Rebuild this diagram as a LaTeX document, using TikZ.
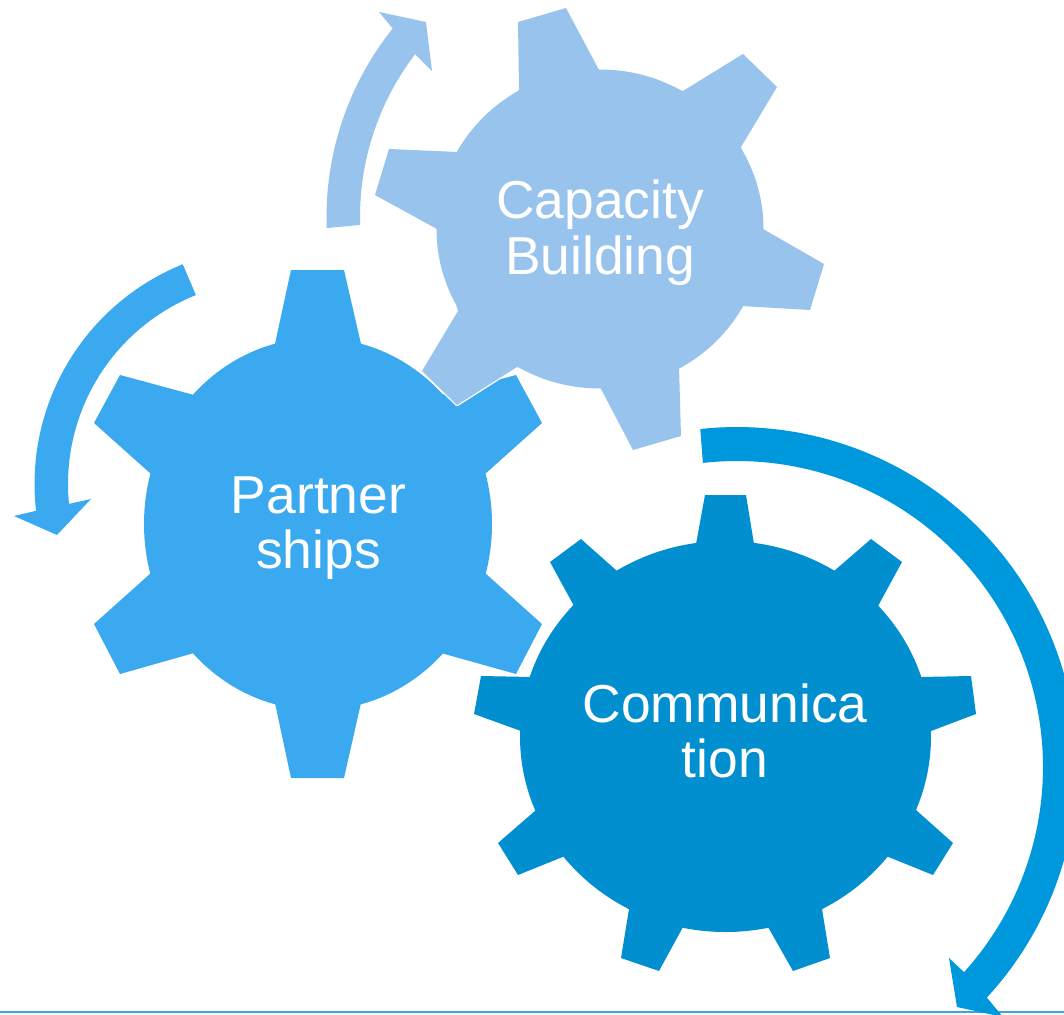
\documentclass[tikz,border=0pt]{standalone}
\usepackage{fontspec}
\setmainfont{Liberation Sans}
\definecolor{capcol}{HTML}{97C3EC}
\definecolor{parcol}{HTML}{3BA9F0}
\definecolor{comcol}{HTML}{028FD0}
\definecolor{arrcol}{HTML}{0098DC}
\definecolor{rulecol}{HTML}{3CA6DC}
\tikzset{
  gearlabel/.style={text=white,align=center,inner sep=0pt,font=\fontsize{53.4}{55.5}\selectfont},
  gearedge/.style={draw=white,line width=2.6pt,line join=round},
}
\newcommand{\drawgear}[5]{% colour, cx, cy, rx ry, polygon
  \path[gearedge] (#2,#3) ellipse [x radius=#4];
  \path[gearedge] #5 -- cycle;
  \fill[#1] (#2,#3) ellipse [x radius=#4];
  \fill[#1] #5 -- cycle;
}
\begin{document}
\begin{tikzpicture}[x=1pt,y=-1pt]
\useasboundingbox (0,0) rectangle (1064,1014);
\clip (0,0) rectangle (1064,1014);
% baseline rule
\fill[rulecol] (0,1011) rectangle (1064,1013);
% partnerships gear and arrow
\drawgear{parcol}{318}{524}{174pt,y radius=186pt}{(275,344) -- (291,270) -- (344,270) -- (361,344) -- (441,395) -- (516,375) -- (542,423) -- (485,474) -- (485,573) -- (542,624) -- (516,674) -- (441,653) -- (361,703) -- (344,778) -- (291,778) -- (275,703) -- (194,653) -- (120,674) -- (94,624) -- (151,573) -- (151,474) -- (94,423) -- (120,375) -- (194,395)}
\fill[parcol] plot[domain=248:173.5,samples=60] ({271.5+237*cos(\x)},{484+237*sin(\x)})
  -- (14,516) -- (57,535) -- (91,499)
  -- plot[domain=174.4:248.2,samples=60] ({271.5+203.5*cos(\x)},{484+203.5*sin(\x)}) -- cycle;
% capacity gear and arrow
\drawgear{capcol}{600}{229}{163.5pt,y radius=159.5pt}{(519,90) -- (518,22) -- (566,8) -- (599,70) -- (683,91) -- (743,54) -- (777,87) -- (741,147) -- (763,229) -- (824,264) -- (810,310) -- (741,306) -- (679,366) -- (681,436) -- (633,450) -- (600,387) -- (517,367) -- (457,405) -- (422,371) -- (458,311) -- (437,229) -- (375,195) -- (389,149) -- (458,152)}
\fill[capcol] plot[domain=177.9:218.7,samples=40] ({628+301.5*cos(\x)},{217+301.5*sin(\x)})
  -- (379,12) -- (426,22) -- (432,71)
  -- plot[domain=217.4:178.3,samples=40] ({628+268*cos(\x)},{217+268*sin(\x)}) -- cycle;
% communication gear and arrow
\drawgear{comcol}{725.5}{736.5}{205.5pt,y radius=195.5pt}{(696,544) -- (705,495) -- (746,495) -- (754,544) -- (834,571) -- (871,539) -- (902,562) -- (878,606) -- (920,677) -- (971,676) -- (976,714) -- (931,731) -- (916,810) -- (953,843) -- (933,875) -- (886,856) -- (822,909) -- (830,958) -- (793,971) -- (768,927) -- (683,927) -- (659,971) -- (621,958) -- (629,909) -- (565,856) -- (518,875) -- (498,843) -- (536,810) -- (521,731) -- (474,714) -- (481,676) -- (532,677) -- (574,606) -- (550,562) -- (581,539) -- (617,571)}
\fill[arrcol] plot[domain=-96.2:42.7,samples=90] ({737+340*cos(\x)},{767+340*sin(\x)})
  -- (1003,1017) -- (957,1007) -- (949,958)
  -- plot[domain=42.1:-96.4,samples=90] ({737+306*cos(\x)},{767+306*sin(\x)}) -- cycle;
% labels
\node[gearlabel] (capacity) at (600,232.5) {Capacity\\Building};
\node[gearlabel] (partner) at (318.5,528) {Partner\\ships};
\node[gearlabel] (communication) at (725,731) {Communica\\tion};
\end{tikzpicture}
\end{document}
